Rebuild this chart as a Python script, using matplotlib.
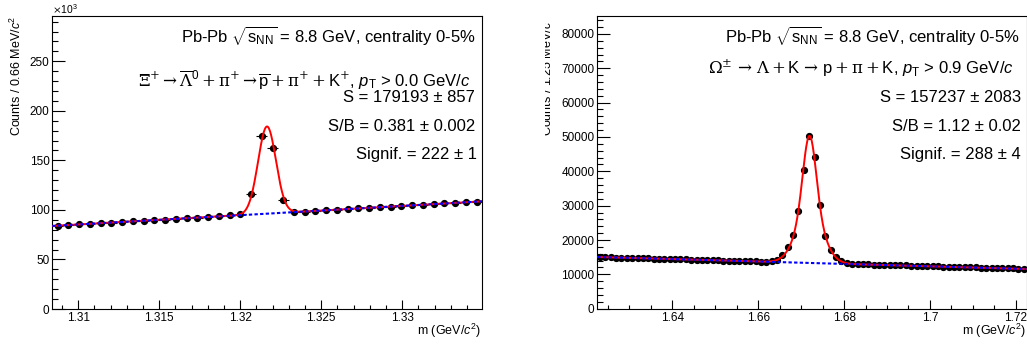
import numpy as np
import matplotlib
matplotlib.use('Agg')
import matplotlib.pyplot as plt
from matplotlib.ticker import MultipleLocator
from matplotlib.transforms import Bbox, TransformedBbox

plt.rcParams['font.family'] = ['Liberation Sans', 'DejaVu Sans']
plt.rcParams['mathtext.fontset'] = 'custom'
plt.rcParams['mathtext.rm'] = 'DejaVu Serif'
plt.rcParams['mathtext.sf'] = 'Liberation Sans'
plt.rcParams['mathtext.it'] = 'Liberation Sans:italic'
plt.rcParams['mathtext.bf'] = 'Liberation Sans:bold'

# Xi+ : 40 bins of ~0.66 MeV, counts in units of 10^3
xi_lo, xi_bw = 1.3084, 0.000663
xi_counts = [84.1, 84.6, 85.3, 85.9, 86.5, 87.2, 87.8, 88.4, 89.0, 89.7,
             90.3, 90.9, 91.6, 92.2, 92.9, 93.6, 94.6, 96.0, 116.2, 174.4,
             162.3, 109.8, 98.3, 98.3, 99.3, 99.7, 100.3, 101.0, 101.7, 102.0,
             102.7, 103.3, 104.0, 104.7, 105.4, 106.1, 106.8, 107.1, 107.8, 108.4]
xi_bkg = (84.1, 937.0, 1.30873)        # value, slope, reference mass
xi_gaus = (88.0, 1.32165, 0.00055)     # amplitude, mean, sigma

# Omega : 80 bins of 1.25 MeV
om_lo, om_bw = 1.6225, 0.00125
om_counts = [15030, 14980, 14950, 14890, 14850, 14800, 14770, 14720, 14680, 14630,
             14590, 14540, 14500, 14460, 14420, 14370, 14330, 14280, 14240, 14200,
             14150, 14110, 14070, 14020, 13980, 13940, 13890, 13850, 13800, 13760,
             13730, 13740, 13830, 14150, 15500, 17830, 21600, 28400, 40400, 50290,
             44100, 30140, 21300, 17060, 14920, 13750, 13280, 13030, 12970, 12920,
             12880, 12840, 12790, 12750, 12710, 12660, 12620, 12580, 12530, 12490,
             12450, 12400, 12360, 12320, 12270, 12230, 12190, 12140, 12100, 12060,
             12010, 11970, 11930, 11880, 11840, 11800, 11750, 11710, 11670, 11620]
om_bkg = (13300.0, -35000.0, 1.6725)
om_gaus = [(22000.0, 1.67195, 0.0015), (15000.0, 1.67195, 0.003)]

W, H = 1027, 345


def fx(px):
    return px / W


def fy(py):
    return 1 - py / H


def bkg(x, p):
    return p[0] + p[1] * (x - p[2])


def gaus(x, p):
    return p[0] * np.exp(-0.5 * ((x - p[1]) / p[2]) ** 2)


def draw(ax, lo, bw, counts, bpar, gpars, ylim):
    n = len(counts)
    x = lo + (np.arange(n) + 0.5) * bw
    ax.errorbar(x, counts, xerr=bw / 2, fmt='o', color='black', ms=4.2,
                elinewidth=0.8, capsize=0, zorder=2)
    xf = np.linspace(lo, lo + n * bw, 800)
    total = bkg(xf, bpar) + sum(gaus(xf, g) for g in gpars)
    ax.plot(xf, total, color='red', lw=1.4, zorder=3)
    ax.plot(xf, bkg(xf, bpar), color='blue', lw=1.5, ls=(0, (1.6, 1.1)), zorder=4)
    ax.set_xlim(lo, lo + n * bw)
    ax.set_ylim(*ylim)
    for s in ax.spines.values():
        s.set_linewidth(0.8)
    ax.tick_params(which='both', direction='in', top=False, right=False,
                   labelsize=8.5, width=0.8)
    ax.tick_params(axis='y', which='major', length=9.3, pad=2)
    ax.tick_params(axis='y', which='minor', length=4.4)
    ax.tick_params(axis='x', which='major', length=6.5, pad=2.2)
    ax.tick_params(axis='x', which='minor', length=3.2)


fig = plt.figure(figsize=(W / 100, H / 100), dpi=100)

ax1 = fig.add_axes([fx(52.3), fy(309), (482 - 52.3) / W, (309 - 15.7) / H])
draw(ax1, xi_lo, xi_bw, xi_counts, xi_bkg, [xi_gaus], (0, 296))
ax1.xaxis.set_major_locator(MultipleLocator(0.005))
ax1.xaxis.set_minor_locator(MultipleLocator(0.001))
ax1.yaxis.set_major_locator(MultipleLocator(50))
ax1.yaxis.set_minor_locator(MultipleLocator(10))
ax1.xaxis.set_major_formatter(plt.FuncFormatter(lambda v, p: f'{v:g}'))

ax2 = fig.add_axes([fx(597.3), fy(308.7), (1026.5 - 597.3) / W, (308.7 - 15.7) / H])
draw(ax2, om_lo, om_bw, om_counts, om_bkg, om_gaus, (0, 85300))
ax2.xaxis.set_major_locator(MultipleLocator(0.02))
ax2.xaxis.set_minor_locator(MultipleLocator(0.005))
ax2.yaxis.set_major_locator(MultipleLocator(10000))
ax2.yaxis.set_minor_locator(MultipleLocator(2000))
ax2.xaxis.set_major_formatter(plt.FuncFormatter(lambda v, p: f'{v:g}'))

# axis titles
fig.text(fx(16), fy(15.7), r'Counts / 0.66 MeV/$c^{\mathsf{2}}$', rotation=90,
         ha='center', va='top', fontsize=9)
t = fig.text(fx(547.5), fy(15.7), r'Counts / 1.25 MeV/$c^{\mathsf{2}}$', rotation=90,
             ha='center', va='top', fontsize=9)
t.set_clip_on(True)
t.set_clip_box(TransformedBbox(Bbox([[fx(545), 0], [1, 1]]), fig.transFigure))
fig.text(fx(480.7), fy(335), r'm (GeV/$c^{\mathsf{2}}$)', ha='right', va='baseline', fontsize=9)
fig.text(fx(1026), fy(335), r'm (GeV/$c^{\mathsf{2}}$)', ha='right', va='baseline', fontsize=9)
fig.text(fx(51.5), fy(13.5), r'$\times$10$^{\mathsf{3}}$', ha='left', va='baseline', fontsize=7.5)

# labels
head = r'Pb-Pb $\sqrt{\mathsf{s}_{\mathsf{NN}}}$ = 8.8 GeV, centrality 0-5%'
xi_lines = [
    (head, 476, 43.3),
    (r'$\Xi^{+}\rightarrow\overline{\Lambda}^{\mathsf{0}}+\mathrm{\pi}^{+}\rightarrow\overline{\mathsf{p}}'
     r'+\mathrm{\pi}^{+}+\mathsf{K}^{+}$, $p_{\mathsf{T}}$ > 0.0 GeV/$c$', 470, 86.5),
    ('S = 179193 ± 857', 475.3, 101.7),
    ('S/B = 0.381 ± 0.002', 475.3, 130.7),
    ('Signif. = 222 ± 1', 476.7, 159.3),
]
om_lines = [
    (head, 1020, 43.3),
    (r'$\Omega^{\pm}\,\rightarrow\,\Lambda+\mathsf{K}\,\rightarrow\,\mathsf{p}+\mathrm{\pi}+\mathsf{K}$, '
     r'$p_{\mathsf{T}}$ > 0.9 GeV/$c$', 1014.3, 73.3),
    ('S = 157237 ± 2083', 1020.7, 101.7),
    ('S/B = 1.12 ± 0.02', 1020.7, 130.7),
    ('Signif. = 288 ± 4', 1020.7, 159.3),
]
for txt, px, py in xi_lines + om_lines:
    fig.text(fx(px), fy(py), txt, ha='right', va='baseline', fontsize=12)

fig.savefig('out.png', dpi=100)
